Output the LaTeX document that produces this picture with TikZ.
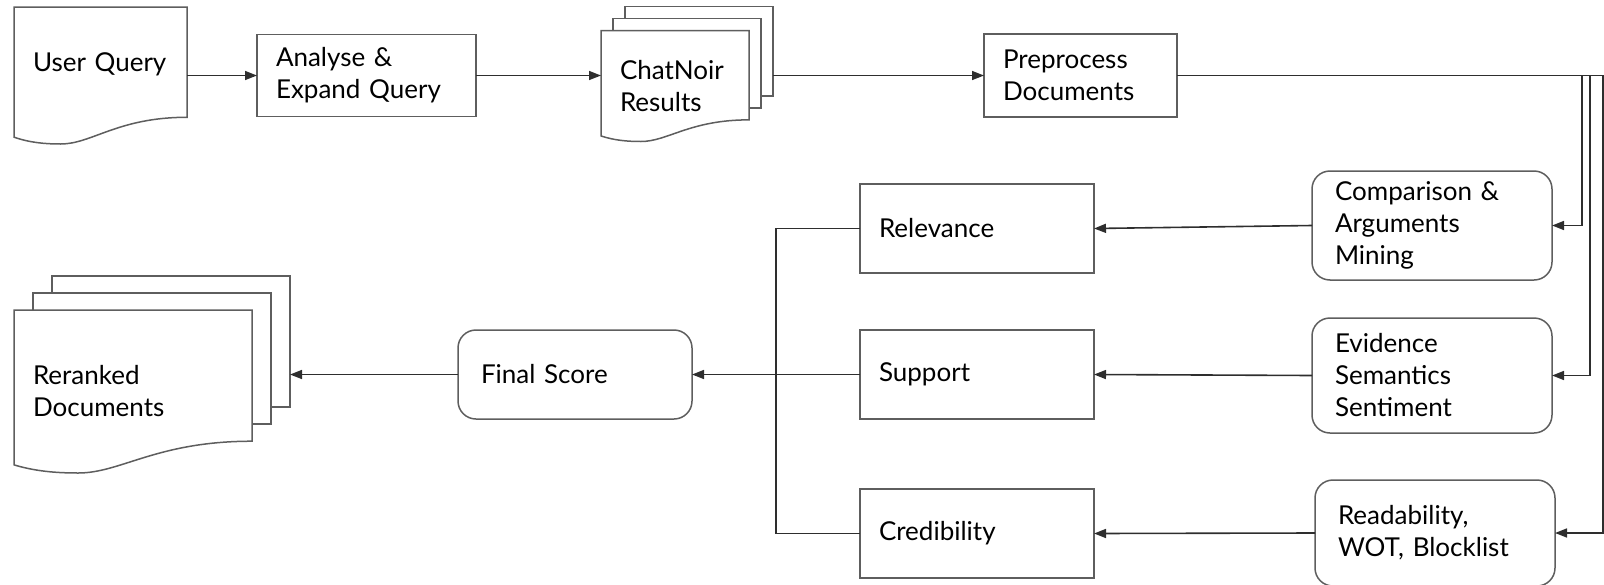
\documentclass[tikz,border=0pt]{standalone}
\usepackage{fontspec}
\setmainfont{Lato}
\usetikzlibrary{positioning, arrows.meta, calc, backgrounds}

\definecolor{bordergray}{HTML}{5E5E5E}
\definecolor{linegray}{HTML}{2E2E2E}

\newcommand{\boxfont}{\fontsize{26}{32}\selectfont}
% wavy document outline round a named node
\newcommand{\docline}[1]{%
  \draw[docborder] let \p1=(#1.north west), \p2=(#1.south east),
      \n1={\x2-\x1}, \n2={\y1-\y2} in
    (\x2,{\y2+0.195*\n2}) -- (\x2,\y1) -- (\x1,\y1) -- (\x1,{\y2+0.05*\n2})
    .. controls ({\x1+0.09*\n1},{\y2+0.01*\n2}) and ({\x1+0.18*\n1},\y2) .. ({\x1+0.27*\n1},\y2)
    .. controls ({\x1+0.45*\n1},\y2) and ({\x1+0.6*\n1},{\y2+0.195*\n2}) .. (\x2,{\y2+0.195*\n2}) -- cycle;
}

\begin{document}
\begin{tikzpicture}[x=1pt, y=-1pt,
    every node/.style={outer sep=0pt},
    txt/.style={font=\boxfont, align=left, inner ysep=0pt, inner xsep=19pt},
    box/.style={txt, draw=bordergray, line width=1.5pt, fill=white, minimum height=89pt},
    rbox/.style={box, rounded corners=18pt, inner xsep=23pt},
    doc/.style={txt},
    docborder/.style={draw=bordergray, line width=1.5pt, fill=white},
    sheet/.style={docborder, inner sep=0pt},
    arrow/.style={-{Triangle[length=12pt, width=9pt]}, line width=1.6pt, linegray},
    link/.style={line width=1.6pt, linegray},
]
\useasboundingbox (0,0) rectangle (1604,584);

% top row
\node[doc, text width=135pt, minimum height=137pt, text depth=27pt, anchor=north west] (uq) at (14,7) {User~Query};
\node[box, text width=181pt, minimum height=82pt, right=70pt of uq] (aq) {Analyse \&\\Expand~Query};
\node[doc, text width=110pt, minimum height=111pt, right=125pt of aq, yshift=-10.5pt] (cn) {ChatNoir\\Results};
\node[box, text width=155pt, minimum height=83pt, anchor=north west] (pp) at (984,34) {Preprocess\\Documents};

% feature extraction
\node[rbox, text width=194pt, minimum height=109pt, anchor=north west] (cam) at (1312,171) {Comparison~\&\\Arguments\\Mining};
\node[rbox, text width=194pt, minimum height=115pt, below=38pt of cam] (ess) {Evidence\\Semantics\\Sentiment};
\node[rbox, text width=194pt, minimum height=106pt, below=47pt of ess, xshift=3pt] (rwb) {Readability,\\WOT,~Blocklist};

% scores
\node[box, text width=196pt, anchor=north west] (rel) at (860,184) {Relevance};
\node[box, text width=196pt, below=57pt of rel] (sup) {Support};
\node[box, text width=196pt, below=70pt of sup] (cred) {Credibility};
\node[rbox, text width=188pt, left=168pt of sup] (fs) {Final~Score};

% output
\node[doc, text width=200pt, minimum height=163pt, anchor=north west] (rd) at (14,310) {Reranked\\Documents};

% document outlines and stacked sheets
\begin{pgfonlayer}{background}
  \node[sheet, minimum width=148pt, minimum height=89.5pt, anchor=north west] (cn3) at ($(cn.north west)+(24,-24)$) {};
  \node[sheet, minimum width=148pt, minimum height=89.5pt, anchor=north west] (cn2) at ($(cn.north west)+(12,-12)$) {};
  \docline{cn}
  \node[sheet, minimum width=238pt, minimum height=131pt, anchor=north west] (rd3) at ($(rd.north west)+(38,-34)$) {};
  \node[sheet, minimum width=238pt, minimum height=131pt, anchor=north west] (rd2) at ($(rd.north west)+(19,-17)$) {};
  \docline{rd}
  \docline{uq}
\end{pgfonlayer}

\draw[arrow] (aq.west -| uq.east) -- (aq.west);
\draw[arrow] (aq.east) -- (aq.east -| cn.west);
\draw[arrow] (cn3.east |- pp.west) -- (pp.west);

\draw[arrow] (pp.east) -| ($(cam.east)+(30,0)$) -- (cam.east);
\draw[arrow] (pp.east) -| ($(ess.east)+(38,0)$) -- (ess.east);
\draw[arrow] (pp.east) -| ($(rwb.east)+(48,0)$) -- (rwb.east);

\draw[arrow] (cam.west) -- (rel.east);
\draw[arrow] (ess.west) -- (sup.east);
\draw[arrow] (rwb.west) -- (cred.east);

\coordinate (jn) at ($(fs.east)!0.5!(sup.west)$);
\draw[link] (rel.west) -| (jn) |- (cred.west);
\draw[arrow] (sup.west) -- (fs.east);
\draw[arrow] (fs.west) -- (fs.west -| rd3.east);
\end{tikzpicture}
\end{document}
